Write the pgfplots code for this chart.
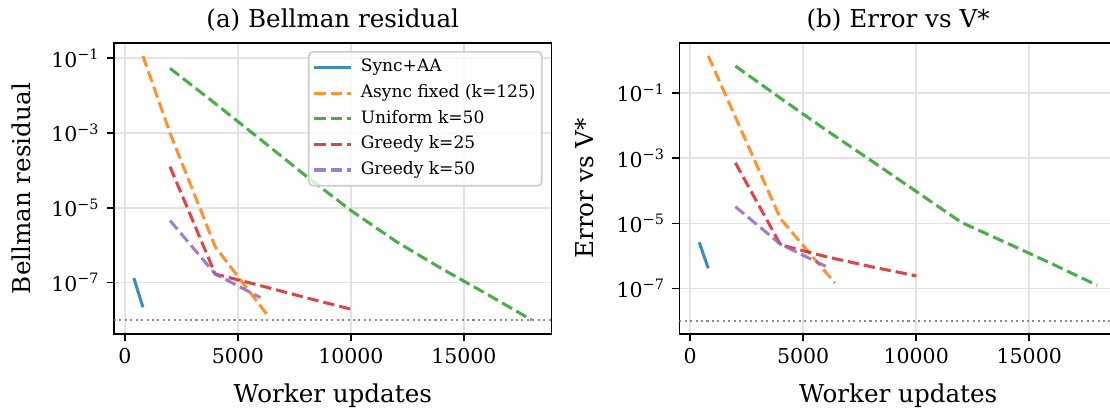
\documentclass[border=0pt]{standalone}
\usepackage{fontspec}
\setmainfont{DejaVu Serif}
\usepackage{pgfplots}
\pgfplotsset{compat=1.18}

\definecolor{cblue}{HTML}{1F77B4}
\definecolor{corange}{HTML}{FF7F0E}
\definecolor{cgreen}{HTML}{2CA02C}
\definecolor{cred}{HTML}{D62728}
\definecolor{cpurple}{HTML}{9467BD}
\definecolor{gridgray}{RGB}{226,226,226}
\definecolor{leggray}{RGB}{204,204,204}

% worker updates vs residual, one table per curve and panel
\pgfplotstableread{
x y
400 1.32e-7
800 2.19e-8
}\bSync
\pgfplotstableread{
x y
800 0.115
2000 1.0e-3
4000 9.1e-7
6400 1.15e-8
}\bAsync
\pgfplotstableread{
x y
2000 0.0537
4000 6.17e-3
6000 6.76e-4
8000 7.24e-5
10000 8.51e-6
12000 1.26e-6
14000 2.40e-7
16000 5.01e-8
18000 1.0e-8
}\bUniform
\pgfplotstableread{
x y
2000 1.26e-4
4000 1.70e-7
6000 8.32e-8
8000 3.98e-8
10000 1.95e-8
}\bGreedyA
\pgfplotstableread{
x y
2000 4.57e-6
4000 1.70e-7
6000 3.98e-8
}\bGreedyB

\pgfplotstableread{
x y
400 2.63e-6
800 4.17e-7
}\eSync
\pgfplotstableread{
x y
800 1.38
2000 0.0184
4000 1.38e-5
6400 1.48e-7
}\eAsync
\pgfplotstableread{
x y
2000 0.676
4000 0.0692
6000 7.41e-3
8000 8.51e-4
10000 9.55e-5
12000 1.07e-5
14000 2.51e-6
16000 5.75e-7
18000 1.26e-7
}\eUniform
\pgfplotstableread{
x y
2000 7.24e-4
4000 2.19e-6
6000 9.55e-7
8000 4.68e-7
10000 2.45e-7
}\eGreedyA
\pgfplotstableread{
x y
2000 3.24e-5
4000 2.29e-6
6000 4.79e-7
}\eGreedyB

\tikzset{dsh/.style={dash pattern=on 5.55pt off 2.4pt}}

\pgfplotsset{
  every axis/.append style={
    anchor=south west,
    scale only axis,
    width=213.5pt, height=141.8pt,
    xmin=-480, xmax=18880,
    axis line style={line width=0.8pt},
    tick style={line width=0.8pt, black},
    major tick length=3.5pt,
    minor tick length=0pt,
    tick align=outside,
    xtick pos=bottom, ytick pos=left,
    scaled x ticks=false,
    xtick={0,5000,10000,15000},
    xticklabels={0,5000,10000,15000},
    ytick={1e-7,1e-5,1e-3,1e-1},
    yticklabels={10\textsuperscript{−7},10\textsuperscript{−5},10\textsuperscript{−3},10\textsuperscript{−1}},
    ticklabel style={font=\fontsize{10}{12}\selectfont},
    grid=major,
    major grid style={line width=0.8pt, gridgray},
    label style={font=\fontsize{12}{14}\selectfont},
    title style={font=\fontsize{12}{14}\selectfont, at={(axis description cs:0.5,1.037)}, anchor=center},
    xlabel style={at={(axis description cs:0.5,-0.2137)}, anchor=center},
  },
  every axis plot/.append style={line width=1.5pt, opacity=0.85},
}

\begin{document}
\begin{tikzpicture}
\begin{semilogyaxis}[
    at={(55.6pt,37.1pt)},
    ymin=4.25e-9, ymax=0.252,
    title={(a) Bellman residual},
    xlabel={Worker updates},
    ylabel={Bellman residual},
    ylabel style={at={(axis description cs:-0.2108,0.5)}, anchor=center},
    legend image code/.code={\draw[#1] (0pt,0pt) -- (17.9pt,0pt);},
    legend cell align=left,
    legend style={at={(axis description cs:1,1)}, anchor=north east,
      xshift=-4.4pt, yshift=-3.8pt,
      draw=leggray, line width=0.8pt, rounded corners=2pt,
      fill=white, fill opacity=0.8, text opacity=1,
      font=\fontsize{8.33}{10}\selectfont,
      inner xsep=2pt, inner ysep=2.5pt,
      row sep=2.2pt, column sep=3pt,
      nodes={inner sep=1pt, text height=6.3pt, text depth=2pt}},
]
\addplot[cblue] table {\bSync};
\addlegendentry{Sync+AA}
\addplot[corange, dsh] table {\bAsync};
\addlegendentry{Async fixed (k=125)}
\addplot[cgreen, dsh] table {\bUniform};
\addlegendentry{Uniform k=50}
\addplot[cred, dsh] table {\bGreedyA};
\addlegendentry{Greedy k=25}
\addplot[cpurple, dsh] table {\bGreedyB};
\addlegendentry{Greedy k=50}
\addplot[gray, line width=1pt, opacity=0.9, dash pattern=on 1pt off 1.65pt, forget plot] coordinates {(-480,1e-8) (18880,1e-8)};
\end{semilogyaxis}

\begin{semilogyaxis}[
    at={(331.4pt,37.1pt)},
    ymin=4.04e-9, ymax=3.38,
    title={(b) Error vs V*},
    xlabel={Worker updates},
    ylabel={Error vs V*},
    ylabel style={at={(axis description cs:-0.2169,0.5)}, anchor=center},
]
\addplot[cblue] table {\eSync};
\addplot[corange, dsh] table {\eAsync};
\addplot[cgreen, dsh] table {\eUniform};
\addplot[cred, dsh] table {\eGreedyA};
\addplot[cpurple, dsh] table {\eGreedyB};
\addplot[gray, line width=1pt, opacity=0.9, dash pattern=on 1pt off 1.65pt] coordinates {(-480,1e-8) (18880,1e-8)};
\end{semilogyaxis}
\pgfresetboundingbox
\path[use as bounding box] (0,0) rectangle (541.5pt,200pt);
\end{tikzpicture}
\end{document}
